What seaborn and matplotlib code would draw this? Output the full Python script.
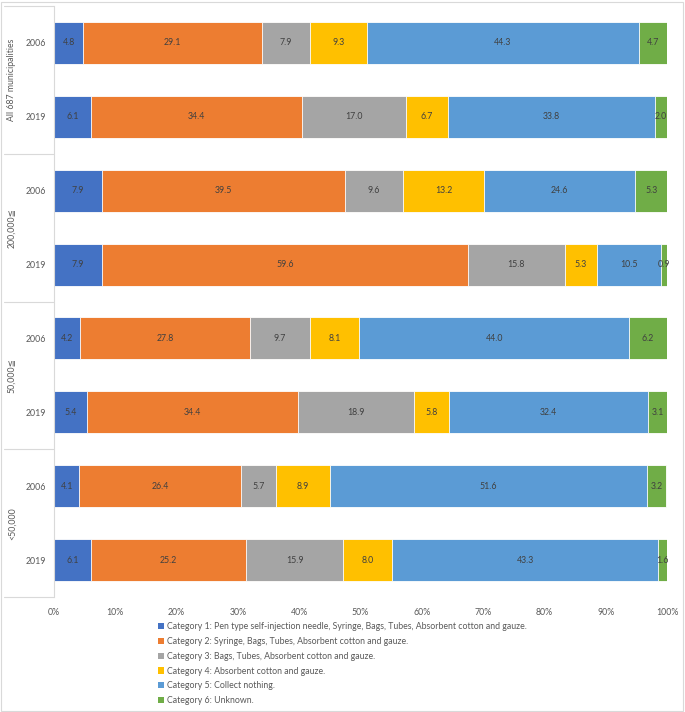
import numpy as np
import pandas as pd
import matplotlib
matplotlib.use("Agg")
import matplotlib.pyplot as plt
from matplotlib.patches import Patch, Rectangle
import matplotlib.transforms as mtransforms
import seaborn as sns

groups = ["All 687 municipalities", "200,000≦", "50,000≦", "<50,000"]
years = ["2006", "2019"]
categories = [
    "Category 1: Pen type self-injection needle, Syringe, Bags, Tubes, Absorbent cotton and gauze.",
    "Category 2: Syringe, Bags, Tubes, Absorbent cotton and gauze.",
    "Category 3: Bags, Tubes, Absorbent cotton and gauze.",
    "Category 4: Absorbent cotton and gauze.",
    "Category 5: Collect nothing.",
    "Category 6: Unknown.",
]
cat1 = [4.8, 6.1, 7.9, 7.9, 4.2, 5.4, 4.1, 6.1]
cat2 = [29.1, 34.4, 39.5, 59.6, 27.8, 34.4, 26.4, 25.2]
cat3 = [7.9, 17.0, 9.6, 15.8, 9.7, 18.9, 5.7, 15.9]
cat4 = [9.3, 6.7, 13.2, 5.3, 8.1, 5.8, 8.9, 8.0]
cat5 = [44.3, 33.8, 24.6, 10.5, 44.0, 32.4, 51.6, 43.3]
cat6 = [4.7, 2.0, 5.3, 0.9, 6.2, 3.1, 3.2, 1.6]
colors = ["#4472C4", "#ED7D31", "#A5A5A5", "#FFC000", "#5B9BD5", "#70AD47"]

rows = [f"{g}|{y}" for g in groups for y in years]
vals = np.array([cat1, cat2, cat3, cat4, cat5, cat6])  # (6, 8)
cums = np.cumsum(vals, axis=0)

recs = []
for k in range(6):
    for i, r in enumerate(rows):
        recs.append({"row": r, "cat": k, "val": vals[k, i], "cum": cums[k, i]})
df = pd.DataFrame(recs)

sns.set_theme(style="white")
plt.rcParams["font.family"] = ["Lato", "DejaVu Sans"]
txt_col = "#595959"
fs = 6.3

fig = plt.figure(figsize=(6.85, 7.12), dpi=100)
W, H = 685, 712
ax = fig.add_axes([54 / W, 1 - 597 / H, 613 / W, 591 / H])

for k in range(5, -1, -1):
    sub = df[df["cat"] == k]
    sns.barplot(data=sub, x="cum", y="row", order=rows, orient="h", color=colors[k],
                width=0.57, edgecolor="white", linewidth=0.6, saturation=1, ax=ax)

for k in range(6):
    for i in range(len(rows)):
        v = vals[k, i]
        ax.text(cums[k, i] - v / 2, i, f"{v:.1f}", ha="center", va="center",
                fontsize=fs, color="#404040")

ax.set_xlim(0, 100)
ax.set_ylim(len(rows) - 0.5, -0.5)
ax.set_xticks(np.arange(0, 101, 10))
ax.set_xticklabels([f"{t}%" for t in range(0, 101, 10)], fontsize=fs, color=txt_col)
ax.set_yticks(range(len(rows)))
ax.set_yticklabels([r.split("|")[1] for r in rows], fontsize=fs, color=txt_col)
ax.tick_params(axis="both", length=0)
ax.tick_params(axis="y", pad=6)
ax.tick_params(axis="x", pad=8)
ax.set_xlabel("")
ax.set_ylabel("")
for s in ["top", "right", "bottom"]:
    ax.spines[s].set_visible(False)
ax.spines["left"].set_color("#D9D9D9")
ax.spines["left"].set_linewidth(0.8)

trans = mtransforms.blended_transform_factory(ax.transAxes, ax.transData)
x0 = (4 - 54) / 613
for yb in [-0.5, 1.5, 3.5, 5.5, 7.5]:
    ax.plot([x0, 0], [yb, yb], transform=trans, color="#D9D9D9", lw=0.8, clip_on=False)
for gi, g in enumerate(groups):
    ax.text((12 - 54) / 613, gi * 2 + 0.5, g, transform=trans, rotation=90,
            ha="center", va="center", fontsize=fs, color=txt_col)

handles = [Patch(facecolor=colors[k], edgecolor="none", label=categories[k]) for k in range(6)]
leg = fig.legend(handles=handles, loc="upper left", bbox_to_anchor=(158 / W, 1 - 622 / H),
                 frameon=False, fontsize=fs, handlelength=0.7, handleheight=0.7,
                 handletextpad=0.35, labelspacing=0.67, borderaxespad=0, borderpad=0)
for t in leg.get_texts():
    t.set_color(txt_col)

fig.patches.append(Rectangle((1 / W, 1 / H), 682 / W, 709 / H, transform=fig.transFigure,
                             fill=False, edgecolor="#D9D9D9", lw=0.8))

fig.savefig("out.png", dpi=100, facecolor="white")
